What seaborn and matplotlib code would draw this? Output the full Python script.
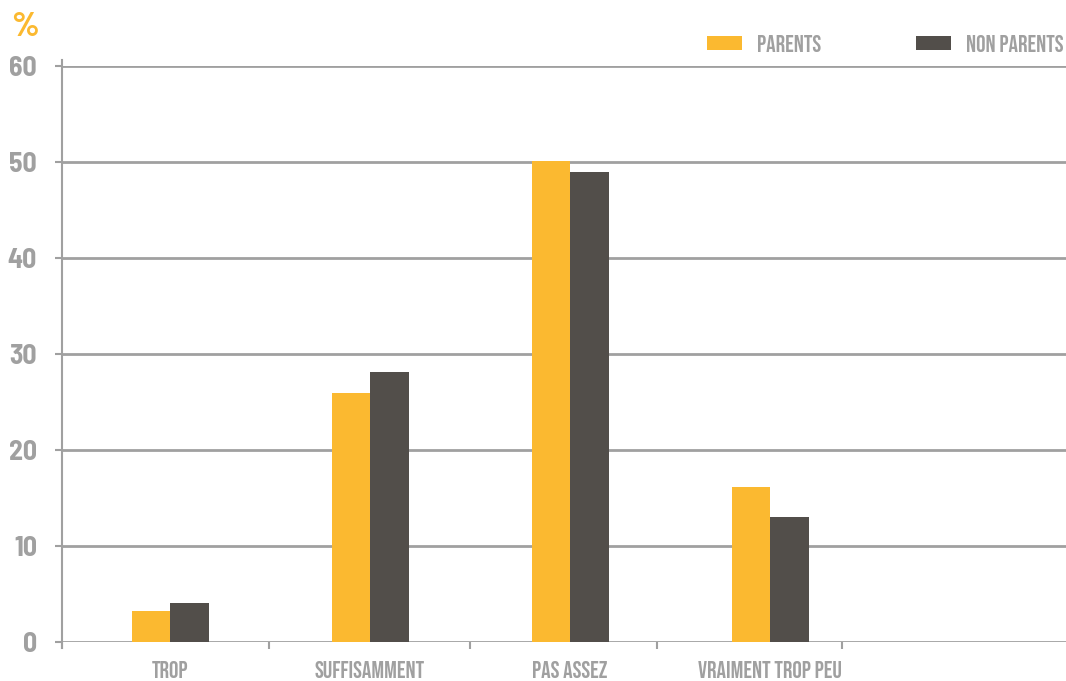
import pandas as pd
import matplotlib.pyplot as plt
import seaborn as sns

# Data
categories = ['TROP', 'SUFFISAMMENT', 'PAS ASSEZ', 'VRAIMENT TROP PEU']
parents = [3.2, 25.9, 50.1, 16.1]
non_parents = [4.1, 28.1, 49.0, 13.0]
series = ['PARENTS', 'NON PARENTS']
y_ticks = [0, 10, 20, 30, 40, 50, 60]

df = pd.DataFrame({
    'categorie': categories * 2,
    'groupe': [series[0]] * len(categories) + [series[1]] * len(categories),
    'valeur': parents + non_parents,
})

sns.set_style('white')
plt.rcParams['font.family'] = ['Bebas Neue', 'DejaVu Sans']
num_font = ['Barlow Semi Condensed', 'DejaVu Sans']

yellow = '#FBB930'
dark = '#524E4A'
grey = '#A0A0A0'

fig = plt.figure(figsize=(10.66, 6.81), dpi=100)
ax = fig.add_axes([62 / 1066, 39 / 681, 1 - 62 / 1066, 576 / 681])

sns.barplot(data=df, x='categorie', y='valeur', hue='groupe', order=categories,
            hue_order=series, palette=[yellow, dark], width=0.385, gap=0,
            saturation=1, linewidth=0, ax=ax, zorder=3)

ax.set_xlim(-0.54, 4.48)
ax.set_ylim(0, 60)
ax.set_yticks(y_ticks)
ax.set_yticklabels([str(v) for v in y_ticks], fontsize=20, fontweight='bold',
                   color=grey, family=num_font)
ax.set_xlabel('')
ax.set_ylabel('')

# horizontal grid lines
for v in y_ticks:
    ax.axhline(v, color=grey, lw=2, zorder=1)

for s in ['top', 'right', 'bottom']:
    ax.spines[s].set_visible(False)
ax.spines['left'].set_color(grey)
ax.spines['left'].set_linewidth(1.5)
ax.spines['left'].set_bounds(-0.6, 60.6)

ax.tick_params(axis='y', which='major', length=5, width=1.5, color=grey, pad=13, left=True)
ax.tick_params(axis='x', which='major', length=0, pad=14)
ax.set_xticks(range(len(categories)))
ax.set_xticklabels(categories, fontsize=17, color=grey)
ax.set_xticks([-0.54, 0.495, 1.5, 2.435, 3.36], minor=True)
ax.tick_params(axis='x', which='minor', length=5, width=1.5, color=grey, bottom=True)

# percent sign
fig.text(11 / 1066, 1 - 27 / 681, '%', color=yellow, fontsize=25, fontweight='bold',
         va='center', family=num_font)

leg = ax.legend(loc='center left', bbox_to_anchor=(707 / 1066, 1 - 43 / 681),
                bbox_transform=fig.transFigure, ncol=2, frameon=False,
                fontsize=17, handlelength=1.48, handleheight=0.51, handletextpad=0.64,
                columnspacing=4.0, borderaxespad=0, borderpad=0)
for t in leg.get_texts():
    t.set_color(grey)

fig.savefig('out.png', dpi=100)
